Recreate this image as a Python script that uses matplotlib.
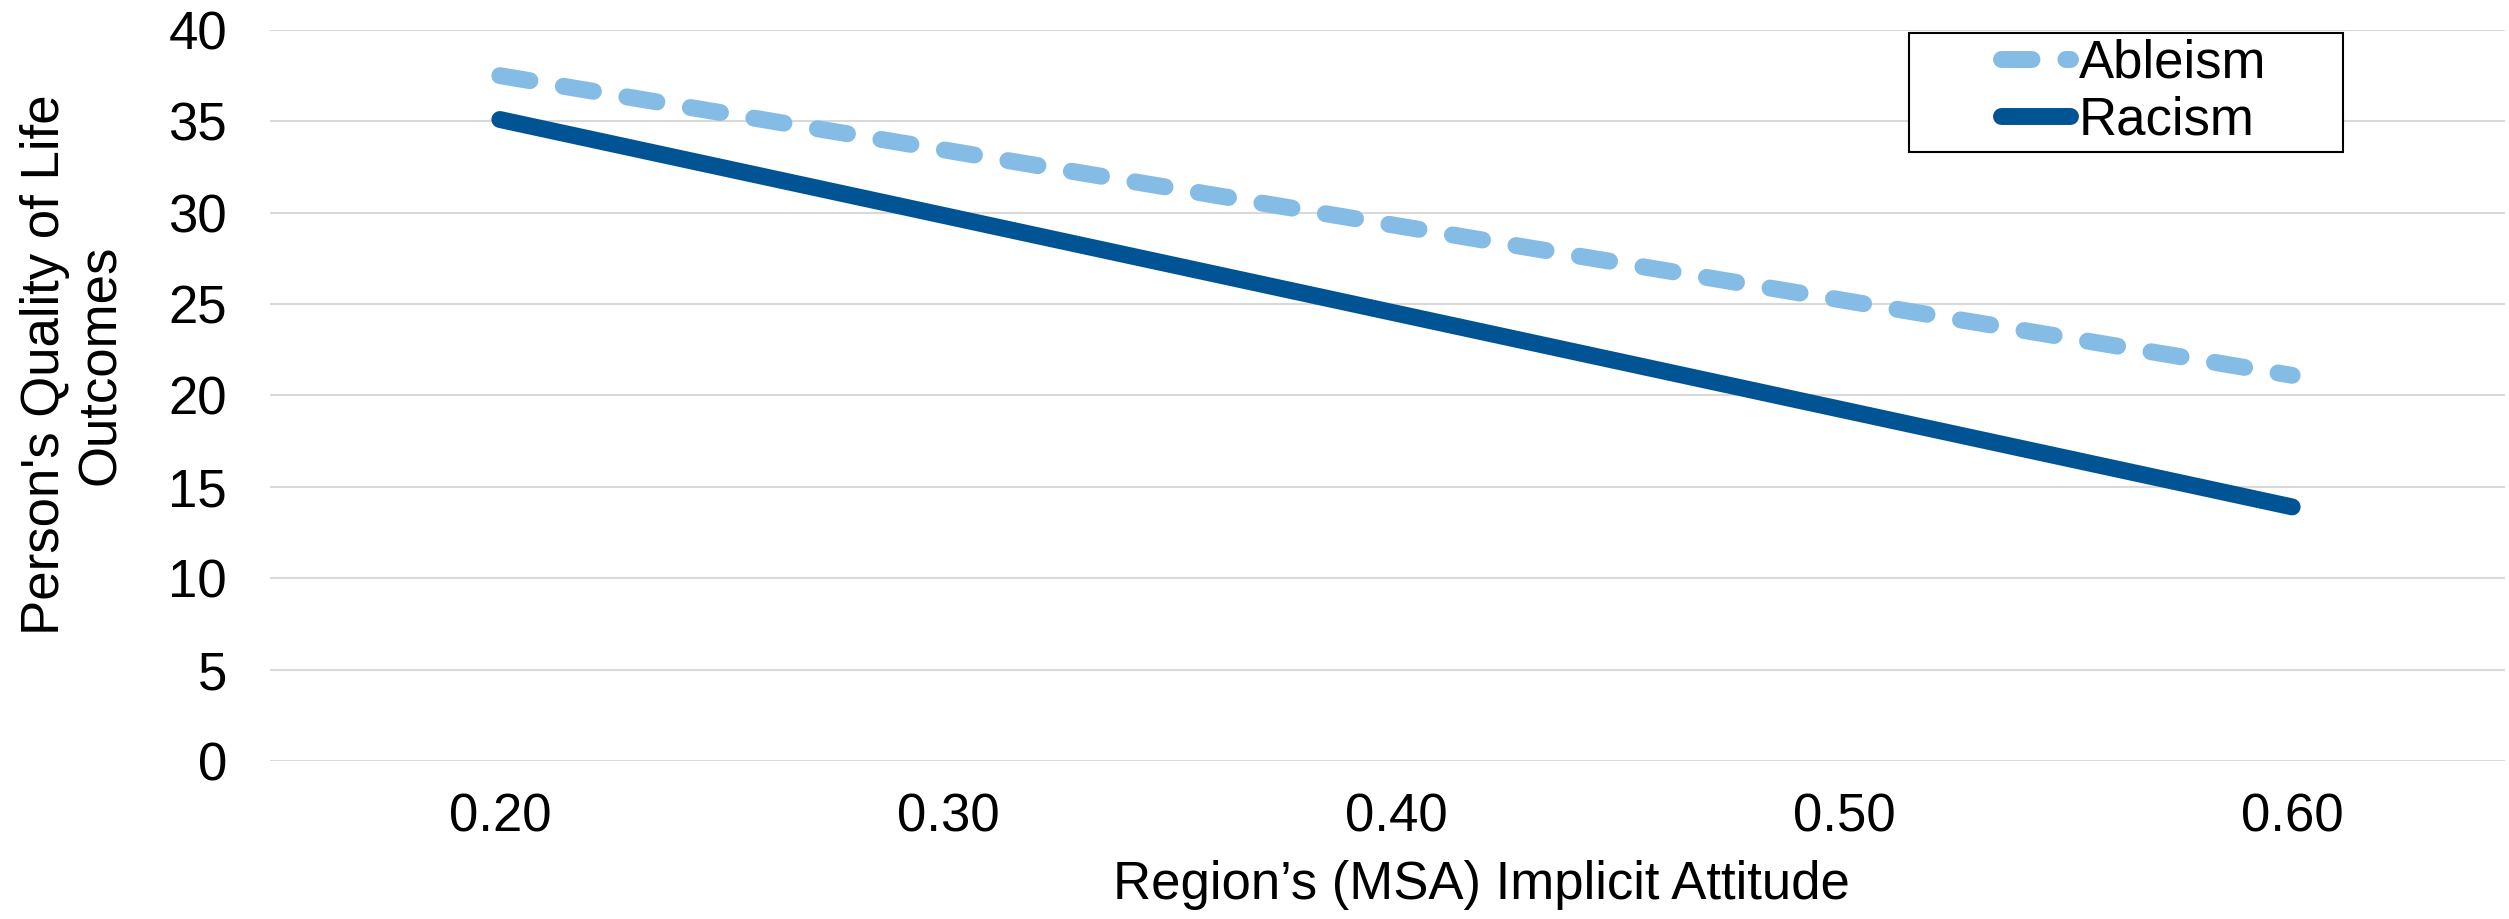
import matplotlib.pyplot as plt
from matplotlib.patches import Rectangle

# values
attitude = [0.20, 0.30, 0.40, 0.50, 0.60]
ableism = [37.5, 33.4, 29.3, 25.2, 21.1]
racism = [35.1, 29.8, 24.5, 19.2, 13.9]
x_ticks = [0.20, 0.30, 0.40, 0.50, 0.60]
y_ticks = [0, 5, 10, 15, 20, 25, 30, 35, 40]

plt.rcParams['font.family'] = ['Liberation Sans', 'DejaVu Sans']
plt.rcParams['font.size'] = 38

fig = plt.figure(figsize=(25.09, 9.19), dpi=100)
ax = fig.add_axes([0.1076, 0.172, 0.8908, 0.7954])

ax.plot(attitude, ableism, color='#85BCE5', linewidth=12.2, dashes=(1.8, 2.0),
        dash_capstyle='round', solid_capstyle='round', label='Ableism')
ax.plot(attitude, racism, color='#005494', linewidth=12.2,
        solid_capstyle='round', label='Racism')

ax.set_xlim(0.1487, 0.6475)
ax.set_ylim(0, 40)
ax.set_xticks(x_ticks)
ax.set_xticklabels([f'{v:.2f}' for v in x_ticks])
ax.set_yticks(y_ticks)
ax.tick_params(axis='both', length=0, labelsize=38)
ax.tick_params(axis='x', pad=23)
ax.tick_params(axis='y', pad=31)
ax.grid(axis='y', color='#D9D9D9', linewidth=1.5)
ax.set_axisbelow(True)
for s in ax.spines.values():
    s.set_visible(False)

ax.set_xlabel('Region\u2019s (MSA) Implicit Attitude', fontsize=38)
ax.xaxis.set_label_coords(0.542, -0.135)
ax.set_ylabel('Person\'s Quality of Life\nOutcomes', fontsize=38, linespacing=1.15)
ax.yaxis.set_label_coords(-0.0644, 0.542)

# legend box, Excel style: wide white frame with the entries centred in it
frame = Rectangle((0.7609, 0.8346), 0.173, 0.1295, transform=fig.transFigure,
                  facecolor='white', edgecolor='black', linewidth=1.5, zorder=5)
fig.add_artist(frame)
leg = fig.legend(loc='center left', bbox_to_anchor=(0.7975, 0.9), fontsize=38,
                 frameon=False, handlelength=1.3, handletextpad=0.18,
                 borderpad=0, labelspacing=0.12, borderaxespad=0)
leg.set_zorder(6)

fig.savefig('out.png', dpi=100)
